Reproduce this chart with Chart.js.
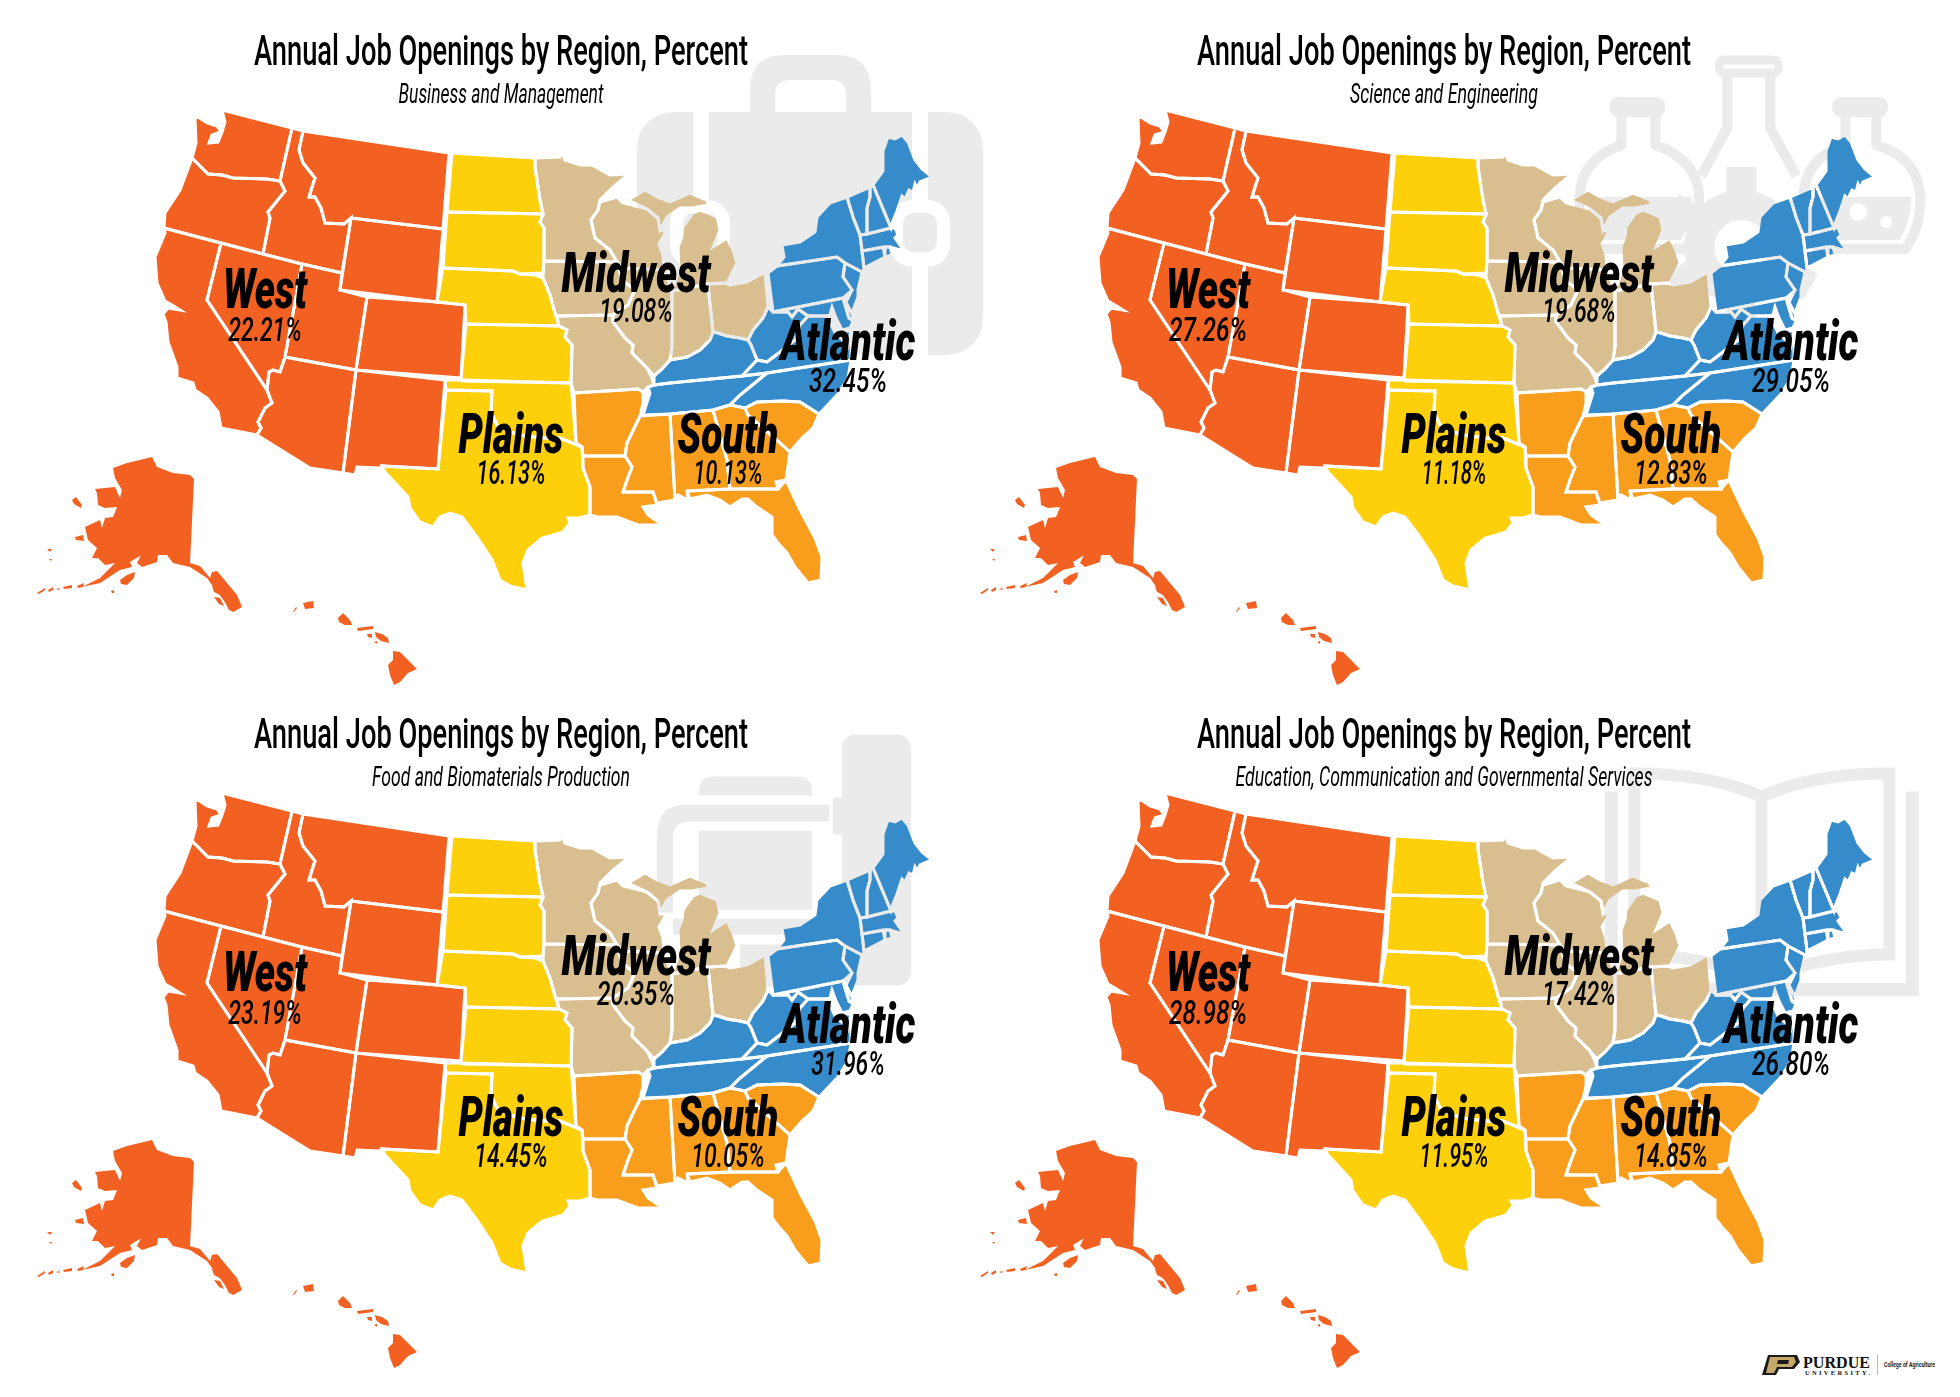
<!DOCTYPE html>
<html>
<head>
<meta charset="utf-8">
<title>Annual Job Openings by Region, Percent</title>
<script src="https://cdn.jsdelivr.net/npm/chart.js@4/dist/chart.umd.min.js"></script>
<style>
  html, body { margin: 0; background: #fff; }
  #page { position: relative; width: 1960px; height: 1397px; overflow: hidden; }
  #page svg { position: absolute; left: 0; top: 0; }
  #page canvas { position: absolute; }
</style>
</head>
<body>
<div id="page">
<svg width="1960" height="1397" viewBox="0 0 1960 1397">
  <defs>
    <g id="gearTooth"><rect x="-15" y="-80" width="30" height="40" fill="#ebebeb"/></g>
  </defs>

  <!-- watermark: briefcase -->
  <g>
    <path fill="#ebebeb" d="M750 112V90Q750 55 785 55H836Q871 55 871 90V112H846V95Q846 80 831 80H790Q775 80 775 95V112Z"/>
    <rect x="637" y="112" width="346" height="243" rx="36" fill="#ebebeb"/>
    <rect x="693" y="105" width="16" height="255" fill="#fff"/>
    <rect x="912" y="105" width="16" height="255" fill="#fff"/>
    <rect x="670" y="200" width="60" height="67" rx="22" fill="#fff"/>
    <rect x="890" y="200" width="60" height="67" rx="22" fill="#fff"/>
    <rect x="683" y="213" width="34" height="39" rx="10" fill="#ebebeb"/>
    <rect x="903" y="213" width="34" height="39" rx="10" fill="#ebebeb"/>
  </g>

  <!-- watermark: flasks and gear -->
  <g transform="translate(943.3,0)" fill="none" stroke="#ebebeb" stroke-width="10" stroke-linejoin="round">
    <rect x="671" y="102" width="46" height="10" rx="4"/>
    <path d="M678 112V145Q636 160 636 200Q636 228 650 249H742Q756 228 756 200Q756 160 712 145V112"/>
    <path stroke="none" fill="#ebebeb" d="M644 197H748Q748 222 738 240H654Q645 222 644 197Z"/>
    <rect x="894" y="102" width="46" height="10" rx="4"/>
    <path d="M902 112V145Q860 158 860 200Q860 228 875 249H962Q977 228 977 200Q977 158 933 145V112"/>
    <path stroke="none" fill="#ebebeb" d="M868 197H968Q968 222 956 240H882Q869 222 868 197Z"/>
    <circle cx="915" cy="212" r="9" stroke="none" fill="#fff"/>
    <circle cx="943" cy="222" r="6" stroke="none" fill="#fff"/>
    <rect x="776" y="60" width="59" height="13" rx="5" stroke-width="9"/>
    <path d="M784 73V128L758 176M827 73V128L853 176"/>
    <circle cx="798" cy="247" r="42" stroke-width="30"/>
    <g stroke="none" transform="translate(798,247)">
      <use href="#gearTooth"/>
      <use href="#gearTooth" transform="rotate(60)"/>
      <use href="#gearTooth" transform="rotate(120)"/>
      <use href="#gearTooth" transform="rotate(180)"/>
      <use href="#gearTooth" transform="rotate(240)"/>
      <use href="#gearTooth" transform="rotate(300)"/>
    </g>
  </g>

  <!-- watermark: silo and barn -->
  <g transform="translate(0,682.6)" fill="#ebebeb">
    <rect x="842" y="52" width="69" height="251" rx="13"/>
    <rect x="833" y="115" width="10" height="37"/>
    <path d="M699 113V109Q699 94 714 94H797Q812 94 812 109V113Z"/>
    <path d="M829 122V139H690Q673 139 673 156V230H657V152Q657 122 687 122Z"/>
    <rect x="699" y="148" width="113" height="79"/>
    <rect x="673" y="236" width="139" height="16"/>
    <rect x="740" y="262" width="72" height="42"/>
  </g>

  <!-- watermark: open book -->
  <g transform="translate(943.3,682.6)" fill="none" stroke="#ebebeb" stroke-width="12">
    <path d="M818 114Q870 91 946 91V272Q880 272 818 297Q756 272 691 272V91Q767 91 818 114V297"/>
    <path stroke-width="13" d="M969 109V307H668V109"/>
  </g>

  <!-- logo -->
  <g>
    <path fill="#1b1b1b" d="M1768 1355H1797L1800 1362L1794 1369H1779L1776 1375H1762Z"/>
    <path fill="#c4a96a" d="M1770 1357H1794L1796 1362L1792 1367H1777L1774 1373H1766Z"/>
    <path fill="#1b1b1b" d="M1778 1360H1789L1788 1364H1777Z"/>
    <text x="1803" y="1368" font-family="Liberation Serif" font-weight="bold" font-size="17" textLength="67" lengthAdjust="spacingAndGlyphs" fill="#111">PURDUE</text>
    <text x="1805" y="1375" font-family="Liberation Serif" font-weight="bold" font-size="6.5" textLength="65" fill="#111">UNIVERSITY.</text>
    <rect x="1877" y="1355" width="1" height="20" fill="#bbb"/>
    <text x="1884" y="1367" font-family="Roboto" font-weight="bold" font-size="7" textLength="51" lengthAdjust="spacingAndGlyphs" fill="#222">College of Agriculture</text>
  </g>
</svg>
<canvas id="panel0" width="1002" height="700"></canvas>
<canvas id="panel1" width="1002" height="700"></canvas>
<canvas id="panel2" width="1002" height="700"></canvas>
<canvas id="panel3" width="1002" height="700"></canvas>
</div>

<script>
const categories = ["West", "Midwest", "Atlantic", "Plains", "South"];
const businessValues = [22.21, 19.08, 32.45, 16.13, 10.13];
const scienceValues = [27.26, 19.68, 29.05, 11.18, 12.83];
const foodValues = [23.19, 20.35, 31.96, 14.45, 10.05];
const educationValues = [28.98, 17.42, 26.80, 11.95, 14.85];

const chartTitle = "Annual Job Openings by Region, Percent";
const subtitles = ["Business and Management", "Science and Engineering", "Food and Biomaterials Production", "Education, Communication and Governmental Services"];
const subtitleWidths = [205, 188, 258, 417];

// state outlines, in map units. neighbours share their border points
const WA = [[222,110],[292,128],[280,181],[267,179],[233,178],[222,175],[208,174],[202,168],[192,158],[196,143],[195,118],[198,117],[207,123],[217,126],[221,132],[212,135],[209,143],[218,142],[222,132],[225,122]];
const OR = [[192,158],[202,168],[208,174],[222,175],[233,178],[267,179],[280,181],[285,191],[268,212],[270,218],[263,254],[221,243],[164,228],[165,213],[180,190]];
const ID = [[292,128],[303,131],[299,150],[303,163],[315,178],[312,187],[309,197],[315,197],[321,208],[325,223],[344,224],[351,218],[342,273],[302,264],[263,254],[270,218],[268,212],[285,191],[280,181]];
const MT = [[303,131],[449,153],[443,229],[351,218],[344,224],[325,223],[321,208],[315,197],[309,197],[312,187],[315,178],[303,163],[299,150]];
const WY = [[351,218],[443,229],[437,302],[340,290]];
const CA = [[164,228],[221,243],[207,300],[267,390],[272,403],[265,408],[258,422],[261,428],[257,435],[221,428],[218,412],[207,398],[195,390],[193,383],[177,378],[177,367],[168,342],[166,322],[163,314],[168,308],[180,310],[172,305],[165,301],[157,283],[155,257],[165,233]];
const NV = [[221,243],[263,254],[302,264],[285,357],[280,372],[273,370],[269,372],[267,390],[207,300]];
const UT = [[302,264],[342,273],[340,290],[367,297],[356,370],[285,357]];
const CO = [[367,297],[437,302],[465,305],[461,378],[356,370]];
const AZ = [[285,357],[356,370],[343,473],[310,468],[257,435],[261,428],[258,422],[265,408],[272,403],[267,390],[269,372],[273,370],[280,372]];
const NM = [[356,370],[445,380],[438,469],[382,466],[380,468],[357,467],[355,475],[343,473]];
const AK = [[113,468],[127,463],[152,457],[157,467],[173,473],[190,475],[194,479],[190,563],[200,566],[210,578],[212,572],[217,571],[237,595],[242,607],[233,612],[225,602],[212,585],[207,578],[190,567],[173,563],[167,555],[158,555],[157,562],[142,567],[137,563],[142,553],[152,548],[148,551],[130,562],[132,567],[120,570],[100,583],[82,587],[100,578],[115,563],[105,565],[98,558],[92,558],[97,548],[88,540],[85,527],[100,520],[102,528],[105,518],[113,517],[117,507],[105,508],[98,505],[97,493],[95,489],[115,487],[120,498],[122,490],[115,478]];
const akIslands = [
  [[37,593],[45,588],[45,590],[39,594]], [[48,590],[53,587],[53,590],[49,592]], [[56,589],[60,588],[59,590]],
  [[63,587],[72,585],[72,588],[64,589]], [[77,586],[84,583],[83,587],[78,588]], [[120,580],[127,575],[135,572],[134,578],[127,585],[121,584]],
  [[72,500],[76,497],[82,505],[81,508],[74,504]], [[75,537],[83,535],[84,541],[76,540]], [[47,549],[52,549],[50,552]], [[49,559],[52,559],[51,561]],
  [[111,591],[114,590],[114,593],[112,593]], [[212,586],[218,585],[220,595],[214,592]], [[214,597],[220,598],[224,606],[219,604]], [[224,600],[229,602],[234,612],[229,610]]
];
const hiIslands = [
  [[303,603],[313,601],[314,608],[305,609]], [[293,612],[296,607],[297,608],[294,612]], [[338,618],[343,613],[350,620],[352,625],[345,625],[339,622]],
  [[357,628],[373,626],[373,629],[358,631]], [[367,634],[372,634],[372,638],[368,637]], [[375,632],[382,634],[388,638],[389,643],[381,641],[376,637]], [[374,642],[377,641],[377,644]],
  [[393,651],[400,652],[408,660],[417,669],[408,673],[400,682],[394,685],[390,675],[388,665],[393,660]]
];

const ND = [[452,153],[535,158],[535,167],[540,200],[543,214],[447,212]];
const SD = [[447,212],[543,214],[540,222],[544,228],[544,261],[543,273],[520,274],[513,271],[443,268]];
const NE = [[443,268],[513,271],[520,274],[535,275],[543,278],[550,295],[555,313],[559,326],[466,324],[465,305],[437,302]];
const KS = [[466,324],[559,326],[567,330],[565,337],[572,345],[571,383],[462,381],[461,378]];
const OK = [[445,380],[461,380],[571,383],[576,443],[582,447],[560,438],[545,438],[525,436],[510,432],[497,425],[491,412],[492,391],[446,390]];
const TX = [[446,390],[492,391],[491,412],[497,425],[510,432],[525,436],[545,438],[560,438],[582,447],[583,468],[590,487],[590,515],[580,518],[568,518],[570,523],[563,532],[550,536],[542,538],[528,550],[523,563],[527,590],[510,586],[500,580],[492,560],[477,537],[462,517],[450,513],[440,517],[433,527],[420,522],[410,508],[408,497],[385,472],[382,466],[438,469]];

const MN = [[535,158],[560,157],[562,151],[565,160],[580,165],[592,165],[610,175],[629,174],[613,187],[600,200],[598,210],[591,220],[595,238],[610,250],[617,262],[544,261],[544,228],[540,222],[543,214],[540,200],[535,167]];
const WI = [[600,202],[617,197],[623,203],[647,209],[658,218],[660,230],[666,232],[659,244],[663,255],[664,270],[622,268],[617,262],[610,250],[595,238],[591,220],[598,210]];
const MIU = [[628,200],[645,190],[657,197],[670,202],[690,193],[707,200],[708,205],[692,208],[680,208],[667,217],[660,230],[658,218],[647,209]];
const MIL = [[693,213],[700,210],[717,217],[720,230],[713,247],[727,238],[733,250],[737,263],[727,283],[708,284],[672,291],[679,270],[678,247],[682,237],[683,227]];
const IA = [[544,261],[617,262],[622,280],[635,290],[628,305],[613,315],[557,316],[555,313],[550,295],[543,278],[543,273]];
const IL = [[622,268],[664,270],[672,291],[672,347],[670,360],[662,369],[654,376],[647,368],[632,353],[633,345],[625,338],[613,322],[613,315],[628,305],[635,290],[622,280]];
const IN = [[672,291],[708,284],[713,332],[710,340],[700,350],[687,357],[670,360],[672,347]];
const OH = [[708,284],[725,283],[730,285],[747,282],[765,272],[768,307],[763,318],[753,330],[748,340],[740,338],[727,336],[718,333],[713,332]];
const MO = [[557,316],[613,315],[613,322],[625,338],[633,345],[632,353],[647,368],[652,378],[654,385],[648,387],[643,392],[638,389],[574,393],[571,383],[572,345],[565,337],[567,330],[559,326]];

const KY = [[654,385],[654,376],[662,369],[670,360],[687,357],[700,350],[710,340],[713,332],[718,333],[727,336],[740,338],[748,340],[751,345],[757,360],[742,376],[670,383]];
const TN = [[643,415],[650,393],[648,387],[654,385],[670,383],[742,376],[767,373],[740,395],[730,405],[713,410],[670,414]];
const NC = [[730,405],[740,395],[767,373],[851,360],[848,378],[838,394],[822,411],[819,414],[800,402],[783,401],[757,402],[745,408]];
const VA = [[742,376],[757,360],[767,362],[780,352],[795,340],[800,325],[808,316],[825,316],[830,322],[836,335],[851,346],[851,360],[767,373]];
const WV = [[768,307],[773,312],[788,312],[792,317],[798,309],[808,316],[800,325],[795,340],[780,352],[767,362],[757,360],[751,345],[748,340],[753,330],[763,318]];
const MD = [[773,312],[843,298],[849,318],[853,321],[850,328],[842,330],[836,318],[832,307],[830,315],[825,316],[808,316],[798,309],[792,317],[788,312]];
const DE = [[843,298],[847,304],[854,318],[849,318]];
const VAshore = [[843,331],[851,331],[848,345]];
const PA = [[768,273],[777,266],[837,257],[845,263],[843,277],[852,290],[843,298],[773,312]];
const NJ = [[845,263],[862,272],[858,290],[858,297],[852,313],[846,305],[846,302],[852,290],[843,277]];
const NY = [[777,266],[784,257],[782,245],[800,242],[815,232],[817,217],[830,203],[847,197],[853,217],[860,235],[862,251],[864,268],[869,266],[862,272],[845,263],[837,257]];
const CT = [[862,251],[883,247],[885,257],[864,268]];
const RI = [[885,247],[890,247],[892,255],[885,257]];
const MA = [[860,235],[867,234],[891,228],[895,228],[898,235],[895,238],[902,248],[913,242],[900,250],[890,247],[885,247],[862,251]];
const VT = [[847,197],[870,187],[870,197],[867,208],[867,234],[860,235],[853,217]];
const NH = [[870,187],[873,185],[891,228],[867,234],[867,208],[870,197]];
const ME = [[873,185],[883,171],[883,151],[888,137],[895,139],[902,135],[908,142],[915,160],[922,169],[932,177],[920,182],[917,188],[915,184],[913,192],[909,190],[905,199],[902,196],[897,211],[893,221],[891,228]];

const AR = [[574,393],[638,389],[643,392],[643,403],[640,416],[627,443],[625,456],[583,456],[582,447],[576,443]];
const LA = [[583,456],[625,456],[632,467],[627,480],[623,492],[653,492],[657,505],[643,507],[648,515],[663,525],[638,525],[617,517],[597,517],[590,515],[590,487],[583,468]];
const MS = [[640,416],[670,414],[675,500],[657,503],[653,492],[623,492],[627,480],[632,467],[625,456],[627,443]];
const AL = [[670,414],[713,410],[727,460],[730,489],[687,491],[688,500],[678,495],[675,500]];
const GA = [[713,410],[730,405],[745,408],[748,415],[780,443],[790,452],[786,480],[776,482],[778,489],[730,489],[727,460]];
const SC = [[745,408],[757,402],[783,401],[800,402],[819,414],[813,428],[802,438],[790,452],[780,443],[748,415]];
const FL = [[687,491],[730,489],[778,489],[786,480],[800,510],[815,538],[822,557],[821,580],[808,583],[795,567],[787,553],[778,543],[772,535],[772,517],[757,507],[748,499],[742,499],[730,507],[720,500],[707,495],[690,499]];

const regionColors = { West: "#f26122", Midwest: "#d9bf90", Atlantic: "#368ccb", Plains: "#fdd00b", South: "#f99e1c" };
const regionStates = {
  West: [WA, OR, ID, MT, WY, CA, NV, UT, CO, AZ, NM],
  Midwest: [MN, WI, MIU, MIL, IA, IL, IN, OH, MO],
  Atlantic: [KY, TN, NC, VA, WV, MD, DE, VAshore, PA, NJ, NY, CT, RI, MA, VT, NH, ME],
  Plains: [ND, SD, NE, KS, OK, TX],
  South: [AR, LA, MS, AL, GA, SC, FL]
};
const westOffshore = [AK, ...akIslands, ...hiIslands];

// where each region's name and share sit on the map
const labelSpots = {
  West: { x: 265, nameY: 308, shareY: 341, nameW: 84 },
  Midwest: { x: 636, nameY: 292, shareY: 322, nameW: 149 },
  Atlantic: { x: 848, nameY: 360, shareY: 392, nameW: 135 },
  Plains: { x: 511, nameY: 453, shareY: 484, nameW: 105 },
  South: { x: 728, nameY: 453, shareY: 484, nameW: 101 }
};

const fontFamily = 'Roboto, "DejaVu Sans Condensed", sans-serif';

const mapShapes = {
  id: "mapShapes",
  beforeDatasetsDraw(chart) {
    const { ctx } = chart;
    ctx.save();
    chart.data.datasets.forEach((dataset, index) => {
      const points = chart.getDatasetMeta(index).data;
      ctx.beginPath();
      points.forEach((point, i) => (i ? ctx.lineTo(point.x, point.y) : ctx.moveTo(point.x, point.y)));
      ctx.closePath();
      ctx.fillStyle = dataset.regionColor;
      ctx.fill();
    });
    ctx.restore();
    // state borders are gaps in the map, so the watermark shows through them
    ctx.globalCompositeOperation = "destination-out";
  },
  afterDatasetsDraw(chart) {
    chart.ctx.globalCompositeOperation = "source-over";
  }
};

function drawFitted(chart, text, x, y, font, width) {
  const { ctx } = chart;
  const px = chart.scales.x.getPixelForValue(x);
  const py = chart.scales.y.getPixelForValue(y);
  ctx.save();
  ctx.font = font;
  ctx.fillStyle = "#000";
  ctx.textAlign = "center";
  ctx.textBaseline = "alphabetic";
  ctx.translate(px, py);
  ctx.scale(width / ctx.measureText(text).width, 1);
  ctx.fillText(text, 0, 0);
  ctx.restore();
}

const panelText = {
  id: "panelText",
  afterDraw(chart, args, opts) {
    drawFitted(chart, chartTitle, 501, 65, `500 42px ${fontFamily}`, 494);
    drawFitted(chart, opts.subtitle, 501, 103, `italic 400 27px ${fontFamily}`, opts.subtitleWidth);
    categories.forEach((name, i) => {
      const spot = labelSpots[name];
      const share = opts.values[i].toFixed(2) + "%";
      const shareWidth = 78 - 4.5 * (share.split("1").length - 1);
      drawFitted(chart, name, spot.x, spot.nameY, `italic 900 55px ${fontFamily}`, spot.nameW);
      drawFitted(chart, share, spot.x, spot.shareY, `italic 500 33px ${fontFamily}`, shareWidth);
    });
  }
};

function stateDataset(outline, color, borderWidth) {
  return {
    data: [...outline, outline[0]].map(([x, y]) => ({ x, y })),
    regionColor: color,
    showLine: true,
    borderColor: "#fff",
    borderWidth,
    pointRadius: 0,
    tension: 0
  };
}

function buildDatasets() {
  const datasets = [];
  categories.forEach((name) => {
    regionStates[name].forEach((outline) => datasets.push(stateDataset(outline, regionColors[name], 3)));
  });
  westOffshore.forEach((outline) => datasets.push(stateDataset(outline, regionColors.West, 0)));
  return datasets;
}

const panels = [
  { values: businessValues, left: 0, top: 0 },
  { values: scienceValues, left: 943.3, top: 0 },
  { values: foodValues, left: 0, top: 682.6 },
  { values: educationValues, left: 943.3, top: 682.6 }
];

panels.forEach((panel, i) => {
  const canvas = document.getElementById(`panel${i}`);
  canvas.style.left = panel.left + "px";
  canvas.style.top = panel.top + "px";
  new Chart(canvas, {
    type: "scatter",
    data: { datasets: buildDatasets() },
    options: {
      animation: false,
      responsive: false,
      devicePixelRatio: 1,
      layout: { padding: 0 },
      scales: {
        x: { type: "linear", display: false, min: 0, max: 1002 },
        y: { type: "linear", display: false, min: 0, max: 700, reverse: true }
      },
      plugins: {
        legend: { display: false },
        tooltip: { enabled: false },
        panelText: { subtitle: subtitles[i], subtitleWidth: subtitleWidths[i], values: panel.values }
      }
    },
    plugins: [mapShapes, panelText]
  });
});
</script>
</body>
</html>
